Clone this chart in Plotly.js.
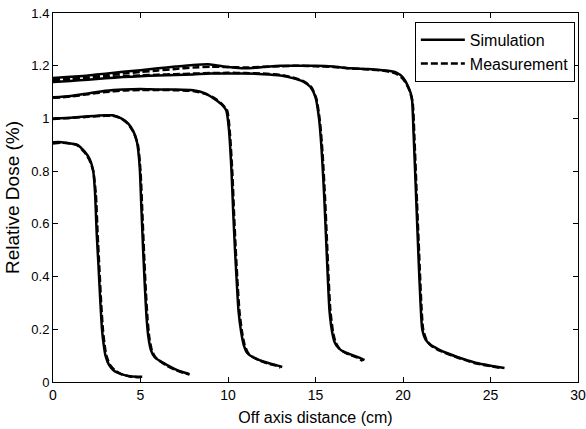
<!DOCTYPE html>
<html><head><meta charset="utf-8">
<script src="https://cdn.plot.ly/plotly-3.0.1.min.js"></script>
<style>html,body{margin:0;padding:0;background:#fff}#chart{width:586px;height:429px}</style>
</head><body><div id="chart"></div>
<script>
// Field 1 (~2.6 cm half width)
const sim1x = [0, 0.5, 1.0, 1.4, 1.8, 2.1, 2.3, 2.4, 2.5, 2.6, 2.7, 2.8, 2.9, 3.0, 3.2, 3.5, 3.9, 4.4, 5.1];
const sim1y = [0.91, 0.91, 0.905, 0.9, 0.875, 0.845, 0.8, 0.72, 0.56, 0.44, 0.31, 0.2, 0.14, 0.1, 0.065, 0.042, 0.03, 0.022, 0.02];
const meas1x = [0, 0.5, 1.0, 1.4, 1.8, 2.1, 2.3, 2.45, 2.55, 2.65, 2.75, 2.85, 2.95, 3.05, 3.25, 3.55, 3.9, 4.4, 5.0];
const meas1y = [0.905, 0.908, 0.905, 0.898, 0.872, 0.84, 0.8, 0.71, 0.56, 0.43, 0.3, 0.2, 0.14, 0.1, 0.066, 0.043, 0.03, 0.021, 0.018];
// Field 2 (~5 cm)
const sim2x = [0, 1, 2, 3, 3.4, 3.9, 4.3, 4.6, 4.8, 4.95, 5.05, 5.15, 5.25, 5.35, 5.45, 5.6, 5.8, 6.1, 6.5, 7.0, 7.4, 7.8];
const sim2y = [1.0, 1.003, 1.008, 1.012, 1.012, 1.0, 0.98, 0.95, 0.91, 0.82, 0.66, 0.5, 0.36, 0.24, 0.17, 0.12, 0.095, 0.08, 0.065, 0.048, 0.038, 0.03];
const meas2x = [0, 1, 2, 3, 3.4, 3.9, 4.3, 4.6, 4.85, 5.0, 5.1, 5.2, 5.3, 5.4, 5.5, 5.65, 5.85, 6.15, 6.5, 7.0, 7.4, 7.8];
const meas2y = [0.998, 1.002, 1.006, 1.01, 1.01, 1.0, 0.978, 0.948, 0.9, 0.8, 0.65, 0.49, 0.35, 0.24, 0.17, 0.12, 0.094, 0.078, 0.062, 0.046, 0.036, 0.028];
// Field 3 (~10 cm)
const sim3x = [0, 1, 2, 3, 4, 5, 6, 7, 8, 8.7, 9.2, 9.6, 9.9, 10.05, 10.2, 10.3, 10.4, 10.5, 10.6, 10.75, 10.9, 11.1, 11.4, 11.8, 12.3, 12.7, 13.1];
const sim3y = [1.08, 1.085, 1.095, 1.105, 1.11, 1.112, 1.11, 1.11, 1.107, 1.095, 1.075, 1.055, 1.03, 0.96, 0.8, 0.64, 0.5, 0.38, 0.27, 0.19, 0.14, 0.11, 0.095, 0.083, 0.072, 0.065, 0.057];
const meas3x = [0, 1, 2, 3, 4, 5, 6, 7, 8, 8.7, 9.2, 9.6, 9.95, 10.1, 10.25, 10.35, 10.45, 10.55, 10.65, 10.8, 10.95, 11.15, 11.45, 11.8, 12.3, 12.7, 13.0];
const meas3y = [1.078, 1.083, 1.092, 1.1, 1.106, 1.108, 1.108, 1.107, 1.104, 1.093, 1.078, 1.058, 1.03, 0.95, 0.79, 0.63, 0.49, 0.37, 0.27, 0.19, 0.14, 0.11, 0.094, 0.082, 0.07, 0.063, 0.055];
// Field 4 (~15 cm)
const sim4x = [0, 1, 2, 3, 4, 5, 6, 7, 8, 9, 10, 11, 12, 13, 13.7, 14.3, 14.7, 15.0, 15.2, 15.35, 15.5, 15.6, 15.7, 15.8, 15.95, 16.1, 16.3, 16.6, 17.0, 17.4, 17.8];
const sim4y = [1.138, 1.142, 1.147, 1.152, 1.157, 1.16, 1.163, 1.165, 1.167, 1.17, 1.17, 1.17, 1.168, 1.163, 1.153, 1.14, 1.12, 1.08, 1.0, 0.88, 0.7, 0.55, 0.4, 0.27, 0.19, 0.15, 0.13, 0.115, 0.105, 0.095, 0.083];
const meas4x = [0, 1, 2, 3, 4, 5, 6, 7, 8, 9, 10, 11, 12, 13, 13.7, 14.3, 14.75, 15.05, 15.25, 15.4, 15.55, 15.65, 15.75, 15.85, 16.0, 16.15, 16.35, 16.65, 17.0, 17.4, 17.7];
const meas4y = [1.148, 1.15, 1.153, 1.157, 1.16, 1.163, 1.166, 1.168, 1.17, 1.172, 1.173, 1.172, 1.17, 1.165, 1.155, 1.142, 1.12, 1.075, 0.99, 0.87, 0.69, 0.54, 0.39, 0.27, 0.19, 0.15, 0.128, 0.113, 0.102, 0.092, 0.08];
// Field 5 (~20 cm)
const sim5x = [0, 1, 2, 3, 4, 5, 6, 7, 8, 9, 10, 11, 12, 13, 14, 15, 16, 17, 18, 19, 19.6, 20.0, 20.3, 20.5, 20.6, 20.75, 20.9, 21.0, 21.1, 21.3, 21.6, 22.0, 22.5, 23.1, 23.7, 24.2, 25.0, 25.8];
const sim5y = [1.153, 1.158, 1.163, 1.17, 1.177, 1.183, 1.19, 1.197, 1.203, 1.205, 1.195, 1.19, 1.195, 1.2, 1.2, 1.2, 1.197, 1.19, 1.188, 1.182, 1.175, 1.155, 1.12, 1.08, 0.95, 0.7, 0.45, 0.3, 0.2, 0.16, 0.14, 0.125, 0.11, 0.095, 0.082, 0.072, 0.062, 0.053];
const meas5x = [0, 1, 2, 3, 4, 5, 6, 7, 8, 9, 10, 11, 12, 13, 14, 15, 16, 17, 18, 19, 19.6, 20.0, 20.35, 20.55, 20.65, 20.8, 20.95, 21.05, 21.15, 21.35, 21.6, 22.0, 22.5, 23.1, 23.7, 24.2, 25.0, 25.7];
const meas5y = [1.145, 1.15, 1.155, 1.163, 1.17, 1.176, 1.182, 1.188, 1.193, 1.196, 1.195, 1.193, 1.196, 1.198, 1.2, 1.198, 1.195, 1.19, 1.186, 1.18, 1.17, 1.15, 1.11, 1.06, 0.93, 0.68, 0.44, 0.29, 0.2, 0.158, 0.138, 0.122, 0.108, 0.093, 0.08, 0.07, 0.06, 0.052];

const xTicks = [0, 5, 10, 15, 20, 25, 30];
const yTicks = [0, 0.2, 0.4, 0.6, 0.8, 1, 1.2, 1.4];
const yTickText = ['0', '0.2', '0.4', '0.6', '0.8', '1', '1.2', '1.4'];

const sims = [[sim1x, sim1y], [sim2x, sim2y], [sim3x, sim3y], [sim4x, sim4y], [sim5x, sim5y]];
const meas = [[meas1x, meas1y], [meas2x, meas2y], [meas3x, meas3y], [meas4x, meas4y], [meas5x, meas5y]];

const traces = [];
meas.forEach((d, i) => traces.push({
  x: d[0], y: d[1], type: 'scatter', mode: 'lines', name: 'Measurement',
  legendgroup: 'meas', showlegend: i === 0, legendrank: 2,
  line: {color: '#000', width: 2.5, dash: '7px,3px', shape: 'spline', smoothing: 0.6}
}));
sims.forEach((d, i) => traces.push({
  x: d[0], y: d[1], type: 'scatter', mode: 'lines', name: 'Simulation',
  legendgroup: 'sim', showlegend: i === 0, legendrank: 1,
  line: {color: '#000', width: 2.5, shape: 'spline', smoothing: 0.6}
}));

const fontFam = 'Liberation Sans, Arial, sans-serif';
const layout = {
  width: 586, height: 429,
  margin: {l: 53, r: 8, t: 13, b: 47},
  paper_bgcolor: '#fff', plot_bgcolor: '#fff',
  font: {family: fontFam, size: 13, color: '#000'},
  showlegend: true,
  legend: {
    x: 0.994, y: 0.976, xanchor: 'right', yanchor: 'top',
    bordercolor: '#000', borderwidth: 1, bgcolor: '#fff',
    font: {family: fontFam, size: 16, color: '#000'},
    itemwidth: 44, tracegroupgap: 0, traceorder: 'normal'
  },
  xaxis: {
    range: [0, 30], tickvals: xTicks, ticktext: xTicks.map(String),
    ticks: 'inside', ticklen: 5, tickcolor: '#000', showline: true, linecolor: '#000', linewidth: 1,
    mirror: 'ticks', showgrid: false, zeroline: false,
    tickfont: {size: 14},
    title: {text: 'Off axis distance (cm)', font: {size: 16}, standoff: 10}
  },
  yaxis: {
    range: [0, 1.4], tickvals: yTicks, ticktext: yTickText,
    ticks: 'inside', ticklen: 5, tickcolor: '#000', showline: true, linecolor: '#000', linewidth: 1,
    mirror: 'ticks', showgrid: false, zeroline: false,
    tickfont: {size: 13},
    title: {text: 'Relative Dose (%)', font: {size: 19}, standoff: 6}
  }
};
Plotly.newPlot('chart', traces, layout, {displayModeBar: false, staticPlot: true});
</script></body></html>
